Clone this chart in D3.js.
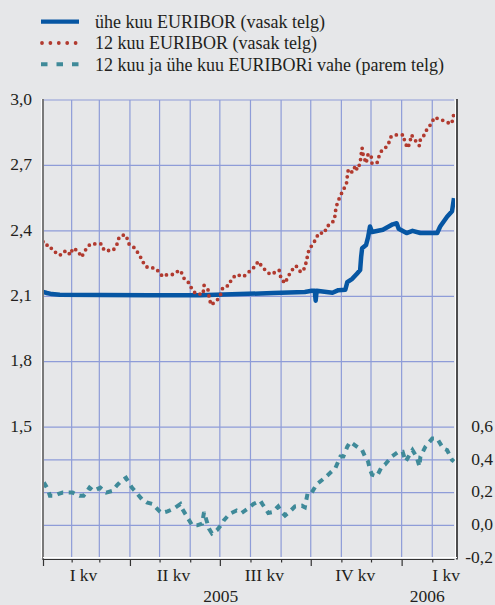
<!DOCTYPE html>
<html>
<head>
<meta charset="utf-8">
<script src="https://cdn.jsdelivr.net/npm/d3@7"></script>
<style>
body { margin: 0; background: #e6e7e9; }
svg { display: block; font-family: "Liberation Serif", "Times New Roman", serif; }
svg text { font-family: "Liberation Serif", "Times New Roman", serif; }
</style>
</head>
<body>
<script>
// ühe kuu EURIBOR (vasak telg)
var euribor1m = [
    ["2005-01-03", 2.12], ["2005-01-07", 2.115], ["2005-01-12", 2.11], ["2005-01-20", 2.107],
    ["2005-03-02", 2.106], ["2005-04-21", 2.105], ["2005-06-11", 2.105], ["2005-07-21", 2.11],
    ["2005-08-24", 2.115], ["2005-09-25", 2.12], ["2005-10-02", 2.125], ["2005-10-05", 2.125],
    ["2005-10-06", 2.08], ["2005-10-07", 2.125], ["2005-10-23", 2.116], ["2005-10-29", 2.128],
    ["2005-11-05", 2.13], ["2005-11-07", 2.165], ["2005-11-12", 2.18], ["2005-11-17", 2.205],
    ["2005-11-20", 2.22], ["2005-11-21", 2.28], ["2005-11-22", 2.32], ["2005-11-26", 2.335],
    ["2005-11-28", 2.37], ["2005-11-30", 2.42], ["2005-12-02", 2.395], ["2005-12-13", 2.405],
    ["2005-12-23", 2.43], ["2005-12-27", 2.435], ["2005-12-29", 2.41], ["2006-01-06", 2.39],
    ["2006-01-12", 2.40], ["2006-01-20", 2.39], ["2006-02-06", 2.39], ["2006-02-09", 2.42],
    ["2006-02-16", 2.465], ["2006-02-21", 2.49], ["2006-02-23", 2.55]
];

// 12 kuu EURIBOR (vasak telg)
var euribor12m = [
    ["2005-01-03", 2.35], ["2005-01-05", 2.35], ["2005-01-09", 2.32], ["2005-01-12", 2.32],
    ["2005-01-14", 2.31], ["2005-01-18", 2.29], ["2005-01-22", 2.29], ["2005-01-26", 2.31],
    ["2005-01-31", 2.29], ["2005-02-02", 2.32], ["2005-02-07", 2.31], ["2005-02-11", 2.28],
    ["2005-02-16", 2.32], ["2005-02-20", 2.34], ["2005-02-26", 2.34], ["2005-03-03", 2.34],
    ["2005-03-06", 2.31], ["2005-03-09", 2.31], ["2005-03-15", 2.31], ["2005-03-19", 2.34],
    ["2005-03-21", 2.37], ["2005-03-24", 2.38], ["2005-03-28", 2.38], ["2005-03-31", 2.34],
    ["2005-04-04", 2.33], ["2005-04-09", 2.30], ["2005-04-13", 2.27], ["2005-04-16", 2.24],
    ["2005-04-20", 2.23], ["2005-04-26", 2.23], ["2005-05-01", 2.21], ["2005-05-04", 2.19],
    ["2005-05-09", 2.20], ["2005-05-15", 2.20], ["2005-05-21", 2.22], ["2005-05-23", 2.21],
    ["2005-05-26", 2.18], ["2005-05-31", 2.16], ["2005-06-03", 2.13], ["2005-06-07", 2.11],
    ["2005-06-14", 2.11], ["2005-06-15", 2.15], ["2005-06-19", 2.13], ["2005-06-20", 2.10],
    ["2005-06-22", 2.06], ["2005-06-28", 2.08], ["2005-07-02", 2.11], ["2005-07-04", 2.14],
    ["2005-07-10", 2.15], ["2005-07-13", 2.18], ["2005-07-18", 2.20], ["2005-07-25", 2.19],
    ["2005-07-30", 2.21], ["2005-08-04", 2.23], ["2005-08-09", 2.26], ["2005-08-12", 2.24],
    ["2005-08-16", 2.22], ["2005-08-21", 2.20], ["2005-08-26", 2.21], ["2005-08-30", 2.22],
    ["2005-09-01", 2.18], ["2005-09-05", 2.16], ["2005-09-08", 2.19], ["2005-09-12", 2.22],
    ["2005-09-16", 2.24], ["2005-09-21", 2.21], ["2005-09-25", 2.23], ["2005-09-27", 2.27],
    ["2005-09-29", 2.31], ["2005-10-03", 2.34], ["2005-10-06", 2.36], ["2005-10-09", 2.39],
    ["2005-10-15", 2.39], ["2005-10-17", 2.42], ["2005-10-21", 2.43], ["2005-10-25", 2.45],
    ["2005-10-26", 2.49], ["2005-10-28", 2.53], ["2005-10-31", 2.56], ["2005-11-03", 2.59],
    ["2005-11-06", 2.61], ["2005-11-07", 2.65], ["2005-11-08", 2.68], ["2005-11-09", 2.67],
    ["2005-11-13", 2.67], ["2005-11-15", 2.70], ["2005-11-17", 2.68], ["2005-11-20", 2.71],
    ["2005-11-21", 2.75], ["2005-11-22", 2.78], ["2005-11-23", 2.75], ["2005-11-26", 2.71],
    ["2005-11-28", 2.75], ["2005-12-01", 2.75], ["2005-12-02", 2.71], ["2005-12-07", 2.71],
    ["2005-12-09", 2.74], ["2005-12-12", 2.77], ["2005-12-18", 2.79], ["2005-12-21", 2.83],
    ["2005-12-24", 2.84], ["2005-12-31", 2.84], ["2006-01-03", 2.84], ["2006-01-04", 2.81],
    ["2006-01-07", 2.78], ["2006-01-09", 2.80], ["2006-01-11", 2.84], ["2006-01-14", 2.82],
    ["2006-01-19", 2.79], ["2006-01-20", 2.82], ["2006-01-24", 2.84], ["2006-01-27", 2.87],
    ["2006-01-31", 2.89], ["2006-02-03", 2.92], ["2006-02-10", 2.91], ["2006-02-15", 2.90],
    ["2006-02-20", 2.89], ["2006-02-22", 2.91], ["2006-02-23", 2.95]
];

// 12 kuu ja ühe kuu EURIBORi vahe (parem telg)
var spread = [
    ["2005-01-03", 0.24], ["2005-01-05", 0.25], ["2005-01-08", 0.22], ["2005-01-10", 0.18],
    ["2005-01-14", 0.18], ["2005-01-18", 0.19], ["2005-01-23", 0.20], ["2005-01-30", 0.20],
    ["2005-02-02", 0.20], ["2005-02-09", 0.18], ["2005-02-13", 0.18], ["2005-02-19", 0.23],
    ["2005-02-23", 0.21], ["2005-03-02", 0.23], ["2005-03-08", 0.20], ["2005-03-14", 0.21],
    ["2005-03-19", 0.245], ["2005-03-23", 0.27], ["2005-03-28", 0.29], ["2005-03-30", 0.27],
    ["2005-04-03", 0.23], ["2005-04-06", 0.21], ["2005-04-13", 0.16], ["2005-04-18", 0.14],
    ["2005-04-24", 0.13], ["2005-05-01", 0.085], ["2005-05-03", 0.075], ["2005-05-09", 0.085],
    ["2005-05-15", 0.10], ["2005-05-22", 0.13], ["2005-05-24", 0.10], ["2005-05-30", 0.04],
    ["2005-06-03", 0.0], ["2005-06-08", 0.0], ["2005-06-13", 0.01], ["2005-06-15", 0.08],
    ["2005-06-17", 0.04], ["2005-06-20", -0.02], ["2005-06-23", -0.05], ["2005-06-28", -0.03],
    ["2005-07-02", 0.0], ["2005-07-05", 0.03], ["2005-07-11", 0.07], ["2005-07-18", 0.09],
    ["2005-07-23", 0.075], ["2005-07-29", 0.10], ["2005-07-31", 0.11], ["2005-08-04", 0.13],
    ["2005-08-11", 0.15], ["2005-08-13", 0.13], ["2005-08-19", 0.075], ["2005-08-23", 0.08],
    ["2005-08-29", 0.115], ["2005-09-01", 0.085], ["2005-09-05", 0.06], ["2005-09-10", 0.085],
    ["2005-09-15", 0.115], ["2005-09-22", 0.12], ["2005-09-25", 0.11], ["2005-09-28", 0.20],
    ["2005-10-02", 0.20], ["2005-10-07", 0.25], ["2005-10-17", 0.30], ["2005-10-26", 0.35],
    ["2005-10-31", 0.42], ["2005-11-03", 0.42], ["2005-11-07", 0.48], ["2005-11-10", 0.51],
    ["2005-11-17", 0.48], ["2005-11-22", 0.46], ["2005-11-25", 0.42], ["2005-11-28", 0.39],
    ["2005-11-30", 0.34], ["2005-12-02", 0.31], ["2005-12-07", 0.30], ["2005-12-12", 0.36],
    ["2005-12-15", 0.37], ["2005-12-22", 0.42], ["2005-12-29", 0.45], ["2006-01-02", 0.45],
    ["2006-01-05", 0.39], ["2006-01-09", 0.43], ["2006-01-12", 0.46], ["2006-01-16", 0.42],
    ["2006-01-19", 0.36], ["2006-01-20", 0.42], ["2006-01-25", 0.48], ["2006-02-01", 0.53],
    ["2006-02-06", 0.53], ["2006-02-12", 0.47], ["2006-02-16", 0.46], ["2006-02-21", 0.40],
    ["2006-02-23", 0.39]
];

var legendLabels = [
    "ühe kuu EURIBOR (vasak telg)",
    "12 kuu EURIBOR (vasak telg)",
    "12 kuu ja ühe kuu EURIBORi vahe (parem telg)"
];

var leftTicks = [1.5, 1.8, 2.1, 2.4, 2.7, 3.0];
var rightTicks = [-0.2, 0.0, 0.2, 0.4, 0.6];
var monthTicks = ["2005-01-03", "2005-02-01", "2005-03-01", "2005-04-01", "2005-05-01", "2005-06-01",
    "2005-07-01", "2005-08-01", "2005-09-01", "2005-10-01", "2005-11-01", "2005-12-01",
    "2006-01-01", "2006-02-01"];
var quarterLabels = ["I kv", "II kv", "III kv", "IV kv", "I kv"];
var quarterLabelDates = ["2005-02-13", "2005-05-15", "2005-08-15", "2005-11-15", "2006-02-15"];
var yearLabels = ["2005", "2006"];
var yearLabelDates = ["2005-07-02", "2006-01-27"];

var parse = d3.timeParse("%Y-%m-%d");
var textColor = "#231f20";
var gridColor = "#8e9cd8";

var svg = d3.select("body").append("svg")
    .attr("width", 495)
    .attr("height", 605);

svg.append("rect")
    .attr("width", 495)
    .attr("height", 605)
    .attr("fill", "#e6e7e9");

var x = d3.scaleTime()
    .domain([parse("2005-01-03"), parse("2006-02-23")])
    .range([43, 454]);
var yLeft = d3.scaleLinear().domain([0.9, 3.0]).range([558, 100]);
var yRight = d3.scaleLinear().domain([-0.2, 2.6]).range([558, 100]);

var comma = function(d) {
    return (d < 0 ? "-" : "") + Math.abs(d).toFixed(1).replace(".", ",");
};

// grid
var grid = svg.append("g").attr("stroke", gridColor).attr("stroke-width", 1.2);
grid.selectAll("line.v")
    .data(monthTicks.slice(1))
    .enter().append("line")
    .attr("x1", function(d) { return x(parse(d)); })
    .attr("x2", function(d) { return x(parse(d)); })
    .attr("y1", yLeft(3.0))
    .attr("y2", yLeft(0.9));
grid.selectAll("line.hl")
    .data(leftTicks)
    .enter().append("line")
    .attr("x1", x.range()[0])
    .attr("x2", x.range()[1])
    .attr("y1", function(d) { return yLeft(d); })
    .attr("y2", function(d) { return yLeft(d); });
grid.selectAll("line.hr")
    .data([0.0, 0.2, 0.4])
    .enter().append("line")
    .attr("x1", x.range()[0])
    .attr("x2", x.range()[1])
    .attr("y1", function(d) { return yRight(d); })
    .attr("y2", function(d) { return yRight(d); });

// series
var spreadLine = d3.line()
    .x(function(d) { return x(parse(d[0])); })
    .y(function(d) { return yRight(d[1]); });
var leftLine = d3.line()
    .x(function(d) { return x(parse(d[0])); })
    .y(function(d) { return yLeft(d[1]); });

svg.append("path")
    .attr("d", spreadLine(spread))
    .attr("fill", "none")
    .attr("stroke", "#3f8a99")
    .attr("stroke-width", 4)
    .attr("stroke-dasharray", "6,5.5");

svg.append("path")
    .attr("d", leftLine(euribor1m))
    .attr("fill", "none")
    .attr("stroke", "#0656a3")
    .attr("stroke-width", 4.5)
    .attr("stroke-linejoin", "round");

svg.append("path")
    .attr("d", leftLine(euribor12m))
    .attr("fill", "none")
    .attr("stroke", "#b13a2f")
    .attr("stroke-width", 3.8)
    .attr("stroke-linecap", "round")
    .attr("stroke-dasharray", "0,6");

// axis frame
svg.append("line").attr("x1", 41.5).attr("x2", 41.5).attr("y1", 99).attr("y2", 558)
    .attr("stroke", "#ffffff").attr("stroke-width", 1);
svg.append("line").attr("x1", 43).attr("x2", 43).attr("y1", 99).attr("y2", 560)
    .attr("stroke", "#7a7a7a").attr("stroke-width", 2);
svg.append("line").attr("x1", 455.5).attr("x2", 455.5).attr("y1", 100).attr("y2", 558)
    .attr("stroke", "#ffffff").attr("stroke-width", 1);
svg.append("line").attr("x1", 457).attr("x2", 457).attr("y1", 99).attr("y2", 559.5)
    .attr("stroke", "#1a1a1a").attr("stroke-width", 1.5);
svg.append("line").attr("x1", 43).attr("x2", 457).attr("y1", 557.5).attr("y2", 557.5)
    .attr("stroke", "#ffffff").attr("stroke-width", 1);

var xAxis = svg.append("g")
    .attr("transform", "translate(0,559)")
    .call(d3.axisBottom(x)
        .tickValues(monthTicks.map(parse))
        .tickSize(3.5)
        .tickSizeOuter(0)
        .tickFormat(""));
xAxis.select(".domain").attr("stroke", "#333333").attr("stroke-width", 1.2);
xAxis.selectAll(".tick line")
    .attr("stroke", "#333333")
    .attr("stroke-width", 1.2)
    .attr("y2", function(d) { return d.getMonth() % 3 === 0 ? 7 : 3.5; });

var leftAxis = svg.append("g")
    .attr("transform", "translate(32,0)")
    .call(d3.axisLeft(yLeft).tickValues(leftTicks).tickSize(0).tickPadding(0).tickFormat(comma));
leftAxis.select(".domain").remove();
leftAxis.selectAll("text")
    .attr("fill", textColor)
    .attr("dy", "0.24em")
    .style("font-size", "17.5px");

var rightAxis = svg.append("g")
    .attr("transform", "translate(493,0)")
    .call(d3.axisRight(yRight).tickValues(rightTicks).tickSize(0).tickPadding(0).tickFormat(comma));
rightAxis.select(".domain").remove();
rightAxis.selectAll("text")
    .attr("fill", textColor)
    .attr("text-anchor", "end")
    .attr("x", 0)
    .attr("dy", "0.24em")
    .style("font-size", "17.5px");

svg.selectAll("text.quarter")
    .data(quarterLabels)
    .enter().append("text")
    .attr("x", function(d, i) { return x(parse(quarterLabelDates[i])); })
    .attr("y", 581)
    .attr("text-anchor", "middle")
    .attr("fill", textColor)
    .style("font-size", "17.5px")
    .text(function(d) { return d; });

svg.selectAll("text.year")
    .data(yearLabels)
    .enter().append("text")
    .attr("x", function(d, i) { return x(parse(yearLabelDates[i])); })
    .attr("y", 602)
    .attr("text-anchor", "middle")
    .attr("fill", textColor)
    .style("font-size", "17.5px")
    .text(function(d) { return d; });

// legend
var legend = svg.append("g");
var legendY = [21.7, 43, 64.3];
legend.append("line").attr("x1", 41).attr("x2", 79).attr("y1", legendY[0]).attr("y2", legendY[0])
    .attr("stroke", "#0656a3").attr("stroke-width", 4.2);
legend.append("line").attr("x1", 42).attr("x2", 79).attr("y1", legendY[1]).attr("y2", legendY[1])
    .attr("stroke", "#b13a2f").attr("stroke-width", 3.8)
    .attr("stroke-linecap", "round").attr("stroke-dasharray", "0,8.4");
legend.append("line").attr("x1", 41).attr("x2", 79).attr("y1", legendY[2]).attr("y2", legendY[2])
    .attr("stroke", "#3f8a99").attr("stroke-width", 4)
    .attr("stroke-dasharray", "6.5,9");
legend.selectAll("text")
    .data(legendLabels)
    .enter().append("text")
    .attr("x", 95)
    .attr("y", function(d, i) { return legendY[i] + 6.2; })
    .attr("fill", textColor)
    .style("font-size", "18px")
    .text(function(d) { return d; });
</script>
</body>
</html>
